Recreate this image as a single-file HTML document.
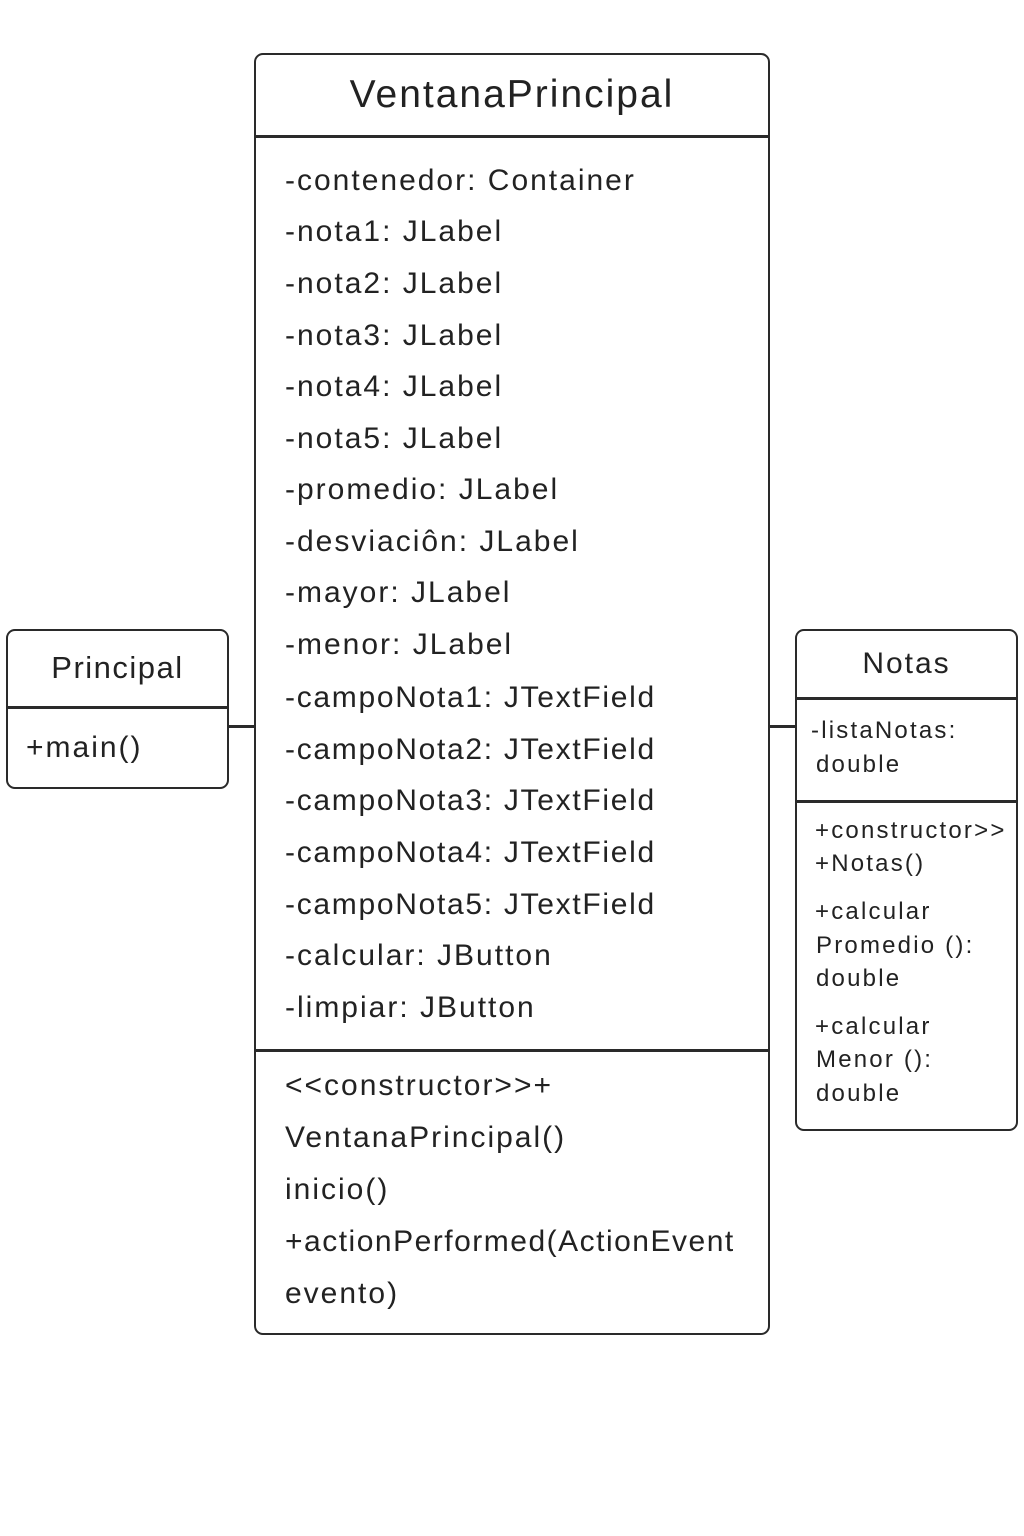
<!DOCTYPE html>
<html><head><meta charset="utf-8"><style>
body{margin:0;width:1024px;height:1536px;background:#fff;position:relative;font-family:"Liberation Sans",sans-serif;color:#222;overflow:hidden}
.b{position:absolute;border:2.5px solid #2a2a2a;border-radius:9px;box-sizing:border-box}
.h{position:absolute;height:2.5px;background:#2a2a2a}
.t{position:absolute;white-space:nowrap;height:40px;line-height:40px}
.m{font-size:30px;letter-spacing:2px}
.n{font-size:24px;letter-spacing:2.2px}
</style></head><body>
<div class="b" style="left:254px;top:53px;width:516px;height:1282px"></div>
<div class="h" style="left:255px;top:135px;width:514px"></div>
<div class="h" style="left:255px;top:1049px;width:514px"></div>
<div class="t" style="left:255px;width:514px;text-align:center;top:75px;font-size:39px;letter-spacing:2px">VentanaPrincipal</div>
<div class="t m" style="left:285px;top:161px">-contenedor: Container</div>
<div class="t m" style="left:285px;top:212px">-nota1: JLabel</div>
<div class="t m" style="left:285px;top:264px">-nota2: JLabel</div>
<div class="t m" style="left:285px;top:316px">-nota3: JLabel</div>
<div class="t m" style="left:285px;top:367px">-nota4: JLabel</div>
<div class="t m" style="left:285px;top:419px">-nota5: JLabel</div>
<div class="t m" style="left:285px;top:470px">-promedio: JLabel</div>
<div class="t m" style="left:285px;top:522px">-desviaciôn: JLabel</div>
<div class="t m" style="left:285px;top:573px">-mayor: JLabel</div>
<div class="t m" style="left:285px;top:625px">-menor: JLabel</div>
<div class="t m" style="left:285px;top:678px;letter-spacing:1.7px">-campoNota1: JTextField</div>
<div class="t m" style="left:285px;top:730px;letter-spacing:1.7px">-campoNota2: JTextField</div>
<div class="t m" style="left:285px;top:781px;letter-spacing:1.7px">-campoNota3: JTextField</div>
<div class="t m" style="left:285px;top:833px;letter-spacing:1.7px">-campoNota4: JTextField</div>
<div class="t m" style="left:285px;top:885px;letter-spacing:1.7px">-campoNota5: JTextField</div>
<div class="t m" style="left:285px;top:936px">-calcular: JButton</div>
<div class="t m" style="left:285px;top:988px">-limpiar: JButton</div>
<div class="t m" style="left:285px;top:1066px">&lt;&lt;constructor&gt;&gt;+</div>
<div class="t m" style="left:285px;top:1118px">VentanaPrincipal()</div>
<div class="t m" style="left:285px;top:1170px">inicio()</div>
<div class="t m" style="left:285px;top:1222px;letter-spacing:1.5px">+actionPerformed(ActionEvent</div>
<div class="t m" style="left:285px;top:1274px">evento)</div>

<div class="b" style="left:6px;top:629px;width:223px;height:160px"></div>
<div class="h" style="left:7px;top:706px;width:221px"></div>
<div class="t" style="left:7px;width:221px;text-align:center;top:648px;font-size:31px;letter-spacing:1.5px">Principal</div>
<div class="t m" style="left:26px;top:728px">+main()</div>
<div class="h" style="left:228px;top:725px;width:27px"></div>

<div class="h" style="left:769px;top:725px;width:27px"></div>
<div class="b" style="left:795px;top:629px;width:223px;height:502px"></div>
<div class="h" style="left:796px;top:697px;width:221px"></div>
<div class="h" style="left:796px;top:800px;width:221px"></div>
<div class="t" style="left:796px;width:221px;text-align:center;top:644px;font-size:30px;letter-spacing:2px">Notas</div>
<div class="t n" style="left:811px;top:711px">-listaNotas:</div>
<div class="t n" style="left:816px;top:745px">double</div>
<div class="t n" style="left:815px;top:811px">+constructor&gt;&gt;</div>
<div class="t n" style="left:815px;top:844px">+Notas()</div>
<div class="t n" style="left:815px;top:892px">+calcular</div>
<div class="t n" style="left:816px;top:926px">Promedio ():</div>
<div class="t n" style="left:816px;top:959px">double</div>
<div class="t n" style="left:815px;top:1007px">+calcular</div>
<div class="t n" style="left:816px;top:1040px">Menor ():</div>
<div class="t n" style="left:816px;top:1074px">double</div>
</body></html>
